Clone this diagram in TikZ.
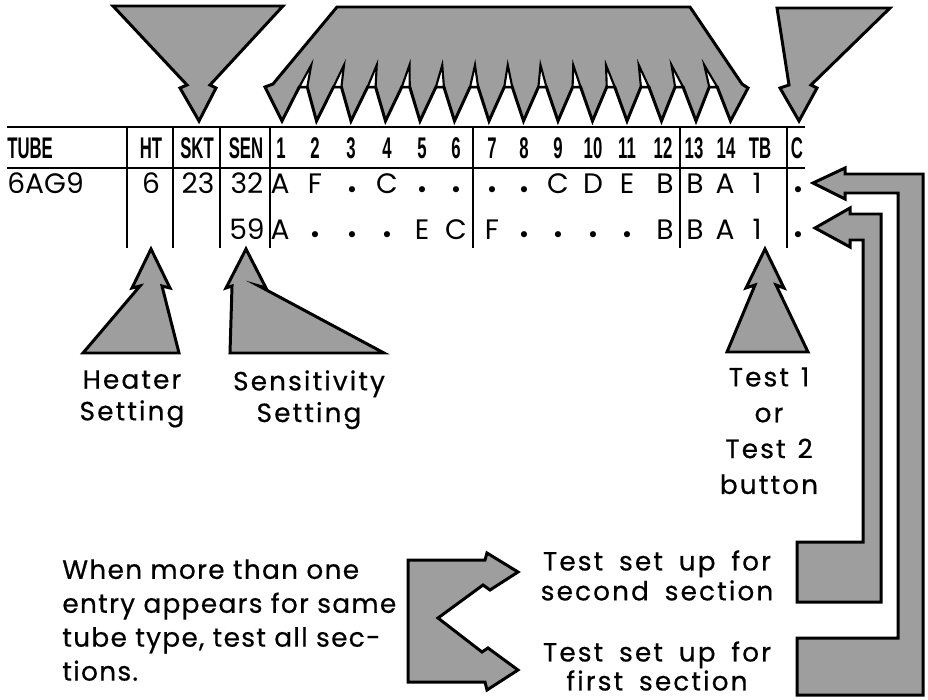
\documentclass[tikz,border=0pt]{standalone}
\usepackage{fontspec}
\setmainfont{Poppins}
\newfontfamily\hdfont[FakeStretch=0.56]{Liberation Sans}
\newfontfamily\lblfont[LetterSpace=8,FakeBold=0.5]{Poppins}
\newfontfamily\notefont[LetterSpace=5,FakeBold=0.5]{Poppins}
\newfontfamily\symfont{DejaVu Sans}
\newcommand\widesp{\spaceskip 0.6em\relax}
\newcommand\midsp{\spaceskip 0.45em\relax}
\tikzset{
  gry/.style={draw=black,fill=black!38,line width=1.7pt,line join=miter},
  gap/.style={draw=black,fill=white,line width=1.2pt,line join=miter},
  rule/.style={line width=1.2pt},
  hd/.style={font=\hdfont\bfseries\fontsize{17}{17}\selectfont,inner sep=0pt,anchor=base},
  dat/.style={font=\fontsize{16}{16}\selectfont,inner sep=0pt,anchor=base},
  lbl/.style={font=\lblfont\fontsize{15}{18}\selectfont,inner sep=0pt,align=center,anchor=north}
}
\newcommand\dt{\raisebox{-2.2pt}{\symfont\fontsize{12}{12}\selectfont •}}

\begin{document}
\begin{tikzpicture}[x=0.02cm,y=-0.02cm]
\useasboundingbox (0,0) rectangle (928,699);

% table rules
\draw[rule] (7,127) -- (805,127);
\draw[rule] (7,168) -- (805,168);
\foreach \x in {127,173,220,270,473,680,787}
  \draw[rule] (\x,127) -- (\x,248);

% header
\node[hd,anchor=base west] (hTube) at (7,158.5) {TUBE};
\foreach \x/\t [count=\i] in {151/HT,197/SKT,246/SEN,281/1,315/2,351/3,387/4,422/5,456/6,
    492/7,524/8,558/9,593/10,627/11,663/12,694/13,726/14,760/TB,797/C}
  \node[hd] (h\i) at (\x,158.5) {\t};

% rows
\node[dat,anchor=base west] (tube) at (7,194) {6AG9};
\foreach \x/\t [count=\i] in {151/6,198/23,247/32,280/A,315/F,352/\dt,387/C,422/\dt,456/\dt,
    492/\dt,524/\dt,558/C,593/D,627/E,665/B,695/B,725/A,757/1,798/\dt}
  \node[dat] (ra\i) at (\x,194) {\t};
\foreach \x/\t [count=\i] in {247/59,280/A,315/\dt,352/\dt,387/\dt,422/E,456/C,
    492/F,524/\dt,558/\dt,593/\dt,627/\dt,665/B,695/B,725/A,757/1,798/\dt}
  \node[dat] (rb\i) at (\x,239) {\t};

% arrows into the header
\filldraw[gry] (113,6) -- (283,6) -- (210,85) -- (216,88) -- (199,121)
  -- (180,88) -- (187,85) -- cycle;
\filldraw[gry] (777,8) -- (890,8) -- (811,85) -- (817,88) -- (799,121)
  -- (780,88) -- (789,85) -- cycle;
\filldraw[gry] (337,7) -- (690,7) -- (742,84) -- (748,88)
  \foreach \j in {13,12,...,1} {
    -- ({282+34.5*\j},121)
    -- ({299.25+34.5*(\j-1)+4-(\j-1)/3+4},87)
    -- ({299.25+34.5*(\j-1)+4-(\j-1)/3-4},87) }
  -- (282,121) -- (265,87) -- (273,84) -- cycle;
\foreach \j in {1,...,13} {
  \pgfmathsetmacro\nx{299.25+34.5*(\j-1)+4-(\j-1)/3}
  \pgfmathsetmacro\ax{8-17*(\j-1)/12}
  \filldraw[gap] ({\nx-4},87) -- ({\nx+\ax},65) -- ({\nx+4},87) -- cycle;
}

% arrows from below
\filldraw[gry] (83,353) -- (140,286) -- (132,288) -- (151,249) -- (170,288)
  -- (162,286) -- (179,353) -- cycle;
\filldraw[gry] (230,353) -- (232,286) -- (226,288) -- (246,249) -- (266,288)
  -- (259,286) -- (384,353) -- cycle;
\filldraw[gry] (727,352) -- (755,285) -- (746,288) -- (765,249) -- (784,288)
  -- (776,285) -- (808,352) -- cycle;

% section arrows
\filldraw[gry] (408,560) -- (485,560) -- (487,553) -- (518,572) -- (490,590)
  -- (483,585) -- (438,618) -- (482,652) -- (488,648) -- (518,670)
  -- (487,690) -- (485,682) -- (408,682) -- cycle;
\filldraw[gry] (813,183) -- (845,168) -- (845,174) -- (923,174) -- (923,695)
  -- (797,695) -- (797,638) -- (898,638) -- (898,193) -- (845,193)
  -- (845,199) -- cycle;
\filldraw[gry] (815,228) -- (850,208) -- (850,214) -- (881,214) -- (881,602)
  -- (797,602) -- (797,542) -- (863,542) -- (863,240) -- (850,240)
  -- (850,247) -- cycle;

% labels
\node[lbl] (heater) at (132,370) {Heater\\Setting};
\node[lbl] (sens) at (309,370) {Sensitivity\\Setting};
\node[lbl,font=\lblfont\fontsize{15}{20.4}\selectfont\midsp] (button) at (769,367)
  {Test 1\\or\\Test 2\\button};
\node[lbl,font=\lblfont\fontsize{15}{17}\selectfont\widesp] (second) at (657,550)
  {Test set up for\\second section};
\node[lbl,font=\lblfont\fontsize{15}{16.5}\selectfont\widesp] (first) at (657,641)
  {Test set up for\\first section};
\node[lbl,align=left,anchor=north west,font=\notefont\fontsize{15}{19.3}\selectfont]
  (note) at (62,559)
  {When more than one\\entry appears for same\\tube type, test all sec-\\tions.};
\end{tikzpicture}
\end{document}
